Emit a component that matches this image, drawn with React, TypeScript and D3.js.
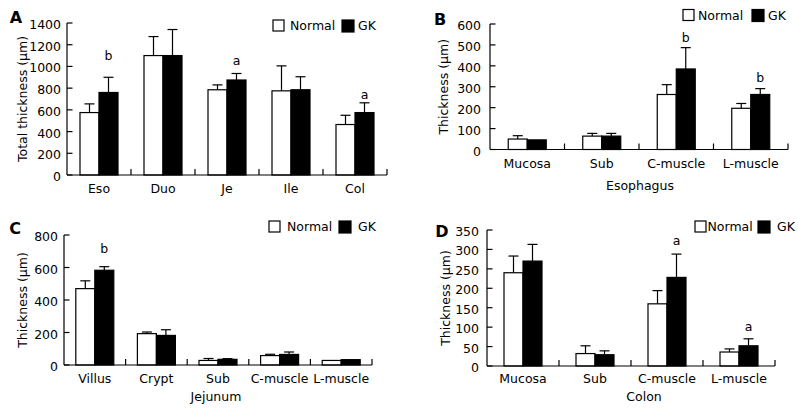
import React from "react";
import * as d3 from "d3";

// ---------- DATA ----------
const seriesNames = ["Normal", "GK"];

// Panel A: total thickness
const catsA = ["Eso", "Duo", "Je", "Ile", "Col"];
const normalA = [575, 1100, 785, 775, 465];
const normalErrA = [80, 175, 45, 230, 85];
const gkA = [760, 1100, 875, 785, 575];
const gkErrA = [140, 240, 60, 120, 90];
const ticksA = [0, 200, 400, 600, 800, 1000, 1200, 1400];
const lettersA = [
  { cat: "Eso", text: "b", value: 1105 },
  { cat: "Je", text: "a", value: 1059 },
  { cat: "Col", text: "a", value: 737 },
];

// Panel B: esophagus
const catsB = ["Mucosa", "Sub", "C-muscle", "L-muscle"];
const normalB = [50, 64, 263, 197];
const normalErrB = [16, 13, 47, 23];
const gkB = [46, 64, 385, 263];
const gkErrB = [0, 13, 102, 28];
const ticksB = [0, 100, 200, 300, 400, 500, 600];
const lettersB = [
  { cat: "C-muscle", text: "b", value: 537 },
  { cat: "L-muscle", text: "b", value: 344 },
];

// Panel C: jejunum
const catsC = ["Villus", "Crypt", "Sub", "C-muscle", "L-muscle"];
const normalC = [470, 193, 28, 58, 28];
const normalErrC = [48, 10, 12, 8, 0];
const gkC = [583, 182, 35, 65, 33];
const gkErrC = [22, 35, 4, 15, 0];
const ticksC = [0, 200, 400, 600, 800];
const lettersC = [{ cat: "Villus", text: "b", value: 718 }];

// Panel D: colon
const catsD = ["Mucosa", "Sub", "C-muscle", "L-muscle"];
const normalD = [240, 32, 160, 36];
const normalErrD = [43, 20, 34, 8];
const gkD = [270, 29, 228, 52];
const gkErrD = [43, 10, 60, 18];
const ticksD = [0, 50, 100, 150, 200, 250, 300, 350];
const lettersD = [
  { cat: "C-muscle", text: "a", value: 322 },
  { cat: "L-muscle", text: "a", value: 101 },
];

// ---------- LAYOUT ----------
const FONT = "'DejaVu Sans', Verdana, sans-serif";

type Letter = { cat: string; text: string; value: number };
type PanelCfg = {
  label: string;
  labelPos: [number, number];
  cats: string[];
  normal: number[];
  normalErr: number[];
  gk: number[];
  gkErr: number[];
  ticks: number[];
  letters: Letter[];
  yTitle: string;
  yTitleX: number;
  xTitle?: string;
  xTitleX?: number;
  xTitleY?: number;
  left: number;
  right: number;
  top: number;
  bottom: number;
  labelGap: number;
  xLabelY: number;
  legend: { nBox: number; nText: number; gBox: number; gText: number; y: number };
};

const panels: PanelCfg[] = [
  {
    label: "A", labelPos: [16, 17], cats: catsA, normal: normalA, normalErr: normalErrA,
    gk: gkA, gkErr: gkErrA, ticks: ticksA, letters: lettersA,
    yTitle: "Total thickness (μm)", yTitleX: 22,
    left: 67, right: 387, top: 23, bottom: 175, labelGap: 6, xLabelY: 188.5,
    legend: { nBox: 273, nText: 290, gBox: 342, gText: 358, y: 20 },
  },
  {
    label: "B", labelPos: [440, 19], cats: catsB, normal: normalB, normalErr: normalErrB,
    gk: gkB, gkErr: gkErrB, ticks: ticksB, letters: lettersB,
    yTitle: "Thickness (μm)", yTitleX: 443, xTitle: "Esophagus", xTitleX: 640, xTitleY: 185,
    left: 490, right: 788, top: 24, bottom: 149.5, labelGap: 9, xLabelY: 163,
    legend: { nBox: 683, nText: 698, gBox: 752, gText: 768, y: 9.5 },
  },
  {
    label: "C", labelPos: [15, 228], cats: catsC, normal: normalC, normalErr: normalErrC,
    gk: gkC, gkErr: gkErrC, ticks: ticksC, letters: lettersC,
    yTitle: "Thickness (μm)", yTitleX: 22, xTitle: "Jejunum", xTitleX: 216, xTitleY: 396,
    left: 64, right: 372, top: 235, bottom: 365, labelGap: 6, xLabelY: 378,
    legend: { nBox: 269, nText: 287, gBox: 339, gText: 358, y: 221 },
  },
  {
    label: "D", labelPos: [442, 231], cats: catsD, normal: normalD, normalErr: normalErrD,
    gk: gkD, gkErr: gkErrD, ticks: ticksD, letters: lettersD,
    yTitle: "Thickness (μm)", yTitleX: 445, xTitle: "Colon", xTitleX: 644, xTitleY: 396,
    left: 487, right: 775, top: 230, bottom: 366, labelGap: 8, xLabelY: 378,
    legend: { nBox: 695, nText: 707.5, gBox: 758, gText: 777, y: 221 },
  },
];

const BAR_W = 19;
const CAP = 5;
const TICK = 5.5;
const SW = 1.2;

function Panel({ p }: { p: PanelCfg }) {
  const yMax = p.ticks[p.ticks.length - 1];
  const y = d3.scaleLinear().domain([0, yMax]).range([p.bottom, p.top]);
  const x0 = d3.scaleBand<string>().domain(p.cats).range([p.left, p.right]).padding(0);
  const x1 = d3.scaleBand<string>().domain(seriesNames).range([0, BAR_W * 2]).padding(0);
  const off = (x0.bandwidth() - BAR_W * 2) / 2;
  const boundaries = p.cats.map((c) => (x0(c) as number) + x0.bandwidth());

  const seriesData = [
    { name: "Normal", vals: p.normal, errs: p.normalErr, fill: "#ffffff" },
    { name: "GK", vals: p.gk, errs: p.gkErr, fill: "#000000" },
  ];

  const axisColor = "#000";
  const lg = p.legend;
  const boxS = 11;
  const fs = 12.5;

  return (
    <g>
      {/* panel label */}
      <text x={p.labelPos[0]} y={p.labelPos[1]} fontSize={16} fontWeight="bold" textAnchor="middle"
        dominantBaseline="central" fontFamily={FONT}>{p.label}</text>

      {/* bars */}
      {seriesData.map((s) =>
        p.cats.map((c, i) => {
          const bx = (x0(c) as number) + off + (x1(s.name) as number);
          const v = s.vals[i];
          const e = s.errs[i];
          const cx = bx + BAR_W / 2;
          return (
            <g key={s.name + c}>
              {e > 0 && (
                <g stroke="#000" strokeWidth={SW}>
                  <line x1={cx} x2={cx} y1={y(v)} y2={y(v + e)} />
                  <line x1={cx - CAP} x2={cx + CAP} y1={y(v + e)} y2={y(v + e)} />
                </g>
              )}
              <rect x={bx} y={y(v)} width={BAR_W} height={p.bottom - y(v)} fill={s.fill}
                stroke="#000" strokeWidth={SW} />
            </g>
          );
        })
      )}

      {/* significance letters */}
      {p.letters.map((l, i) => {
        const bx = (x0(l.cat) as number) + off + (x1("GK") as number) + BAR_W / 2;
        return (
          <text key={i} x={bx} y={y(l.value)} fontSize={fs} textAnchor="middle"
            dominantBaseline="central" fontFamily={FONT}>{l.text}</text>
        );
      })}

      {/* y axis */}
      <line x1={p.left} x2={p.left} y1={p.top} y2={p.bottom} stroke={axisColor} strokeWidth={SW} />
      {p.ticks.map((t) => (
        <g key={t}>
          <line x1={p.left} x2={p.left + TICK} y1={y(t)} y2={y(t)} stroke={axisColor} strokeWidth={SW} />
          <text x={p.left - p.labelGap} y={y(t) + 1.5} fontSize={fs} textAnchor="end"
            dominantBaseline="central" fontFamily={FONT}>{t}</text>
        </g>
      ))}

      {/* x axis */}
      <line x1={p.left} x2={p.right} y1={p.bottom} y2={p.bottom} stroke={axisColor} strokeWidth={SW} />
      {boundaries.map((bx, i) => (
        <line key={i} x1={bx} x2={bx} y1={p.bottom} y2={p.bottom - TICK - 0.5} stroke={axisColor} strokeWidth={SW} />
      ))}
      {p.cats.map((c) => (
        <text key={c} x={(x0(c) as number) + x0.bandwidth() / 2} y={p.xLabelY} fontSize={fs}
          textAnchor="middle" dominantBaseline="central" fontFamily={FONT}>{c}</text>
      ))}

      {/* titles */}
      <text transform={`translate(${p.yTitleX},${(p.top + p.bottom) / 2}) rotate(-90)`} fontSize={fs}
        textAnchor="middle" dominantBaseline="central" fontFamily={FONT}>{p.yTitle}</text>
      {p.xTitle && (
        <text x={p.xTitleX} y={p.xTitleY} fontSize={fs} textAnchor="middle" dominantBaseline="central"
          fontFamily={FONT}>{p.xTitle}</text>
      )}

      {/* legend */}
      <rect x={lg.nBox} y={lg.y} width={boxS} height={boxS} fill="#fff" stroke="#000" strokeWidth={SW} />
      <text x={lg.nText} y={lg.y + boxS / 2} fontSize={fs} dominantBaseline="central" fontFamily={FONT}>{seriesNames[0]}</text>
      <rect x={lg.gBox} y={lg.y} width={boxS + 1} height={boxS + 1} fill="#000" stroke="#000" strokeWidth={SW} />
      <text x={lg.gText} y={lg.y + boxS / 2} fontSize={fs} dominantBaseline="central" fontFamily={FONT}>{seriesNames[1]}</text>
    </g>
  );
}

export default function App() {
  return (
    <svg width={798} height={408} viewBox="0 0 798 408"
      style={{ position: "absolute", left: 0, top: 0, background: "#fff" }}>
      <rect width={798} height={408} fill="#fff" />
      {panels.map((p) => (
        <Panel key={p.label} p={p} />
      ))}
    </svg>
  );
}
